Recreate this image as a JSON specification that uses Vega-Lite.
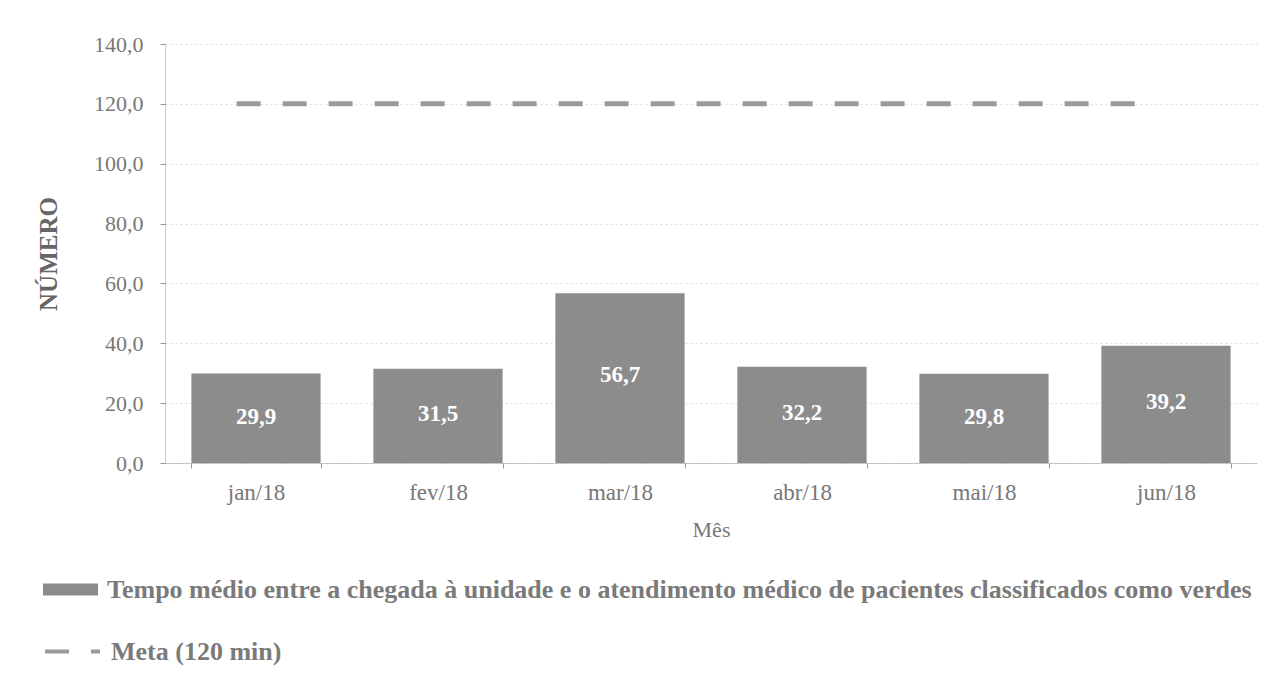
{
  "$schema": "https://vega.github.io/schema/vega-lite/v6.json",
  "width": 1092,
  "height": 419,
  "autosize": {"type": "none"},
  "padding": {"left": 165, "top": 44, "right": 18, "bottom": 212},
  "background": "white",
  "config": {
    "font": "Liberation Serif",
    "view": {"stroke": null},
    "locale": {"number": {"decimal": ",", "thousands": ".", "grouping": [3], "currency": ["R$", ""]}},
    "legend": {"padding": 0, "labelLimit": 1300, "titlePadding": 0}
  },
  "datasets": {
    "barras": [
      {"mes": "jan/18", "valor": 29.9, "serie": "Tempo médio entre a chegada à unidade e o atendimento médico de pacientes classificados como verdes"},
      {"mes": "fev/18", "valor": 31.5, "serie": "Tempo médio entre a chegada à unidade e o atendimento médico de pacientes classificados como verdes"},
      {"mes": "mar/18", "valor": 56.7, "serie": "Tempo médio entre a chegada à unidade e o atendimento médico de pacientes classificados como verdes"},
      {"mes": "abr/18", "valor": 32.2, "serie": "Tempo médio entre a chegada à unidade e o atendimento médico de pacientes classificados como verdes"},
      {"mes": "mai/18", "valor": 29.8, "serie": "Tempo médio entre a chegada à unidade e o atendimento médico de pacientes classificados como verdes"},
      {"mes": "jun/18", "valor": 39.2, "serie": "Tempo médio entre a chegada à unidade e o atendimento médico de pacientes classificados como verdes"}
    ],
    "meta": [
      {"mes": "jan/18", "valor": 120, "serie": "Meta (120 min)"},
      {"mes": "fev/18", "valor": 120, "serie": "Meta (120 min)"},
      {"mes": "mar/18", "valor": 120, "serie": "Meta (120 min)"},
      {"mes": "abr/18", "valor": 120, "serie": "Meta (120 min)"},
      {"mes": "mai/18", "valor": 120, "serie": "Meta (120 min)"},
      {"mes": "jun/18", "valor": 120, "serie": "Meta (120 min)"}
    ]
  },
  "resolve": {"scale": {"y": "independent"}},
  "layer": [
    {
      "data": {"name": "barras"},
      "mark": {"type": "bar"},
      "encoding": {
        "x": {
          "field": "mes", "type": "nominal", "sort": null,
          "scale": {"paddingInner": 0.29, "paddingOuter": 0.145},
          "axis": {
            "title": "Mês", "labelAngle": 0, "tickBand": "extent",
            "domainColor": "#999", "domainDash": [1, 1], "tickColor": "#999", "tickSize": 5,
            "labelFontSize": 23, "labelColor": "#777", "labelPadding": 13,
            "titleFontSize": 22, "titleFontWeight": "normal", "titleColor": "#777", "titlePadding": 15
          }
        },
        "y": {
          "field": "valor", "type": "quantitative",
          "scale": {"domain": [0, 140]},
          "axis": {
            "title": "NÚMERO", "values": [0, 20, 40, 60, 80, 100, 120, 140],
            "format": ".1f",
            "grid": true, "gridColor": "#dcdcdc", "gridDash": [2, 3],
            "domainColor": "#999", "domainDash": [1, 1], "tickColor": "#999", "tickSize": 5,
            "labelFontSize": 22, "labelColor": "#777", "labelPadding": 17,
            "titleFontSize": 25, "titleFontWeight": "bold", "titleColor": "#666", "titlePadding": 32
          }
        },
        "color": {
          "field": "serie", "type": "nominal",
          "scale": {"range": ["#8c8c8c"]},
          "legend": {
            "title": null, "orient": "none", "legendX": -122, "legendY": 518,
            "symbolType": "M-1,-0.22H1V0.22H-1Z", "symbolSize": 3025, "symbolStrokeWidth": 0,
            "labelFontSize": 26, "labelFontWeight": "bold", "labelColor": "#7a7a7a", "labelOffset": 9
          }
        }
      }
    },
    {
      "data": {"name": "meta"},
      "mark": {"type": "line", "color": "#9a9a9a", "strokeWidth": 5, "strokeCap": "butt"},
      "encoding": {
        "x": {"field": "mes", "type": "nominal", "sort": null, "bandPosition": 0.35},
        "y": {"field": "valor", "type": "quantitative", "scale": {"domain": [0, 140]}, "axis": null},
        "strokeDash": {
          "field": "serie", "type": "nominal",
          "scale": {"range": [[24, 22]]},
          "legend": {
            "title": null, "orient": "none", "legendX": -122, "legendY": 578,
            "symbolSize": 3025, "symbolStrokeWidth": 4, "symbolStrokeColor": "#9a9a9a",
            "labelFontSize": 26, "labelFontWeight": "bold", "labelColor": "#7a7a7a", "labelOffset": 9
          }
        }
      }
    },
    {
      "data": {"name": "barras"},
      "mark": {"type": "text", "color": "white", "fontWeight": "bold", "fontSize": 23},
      "encoding": {
        "x": {"field": "mes", "type": "nominal", "sort": null},
        "y": {"field": "valor", "type": "quantitative", "scale": {"domain": [0, 270]}, "axis": null},
        "text": {"field": "valor", "type": "quantitative", "format": ".1f"}
      }
    }
  ]
}
